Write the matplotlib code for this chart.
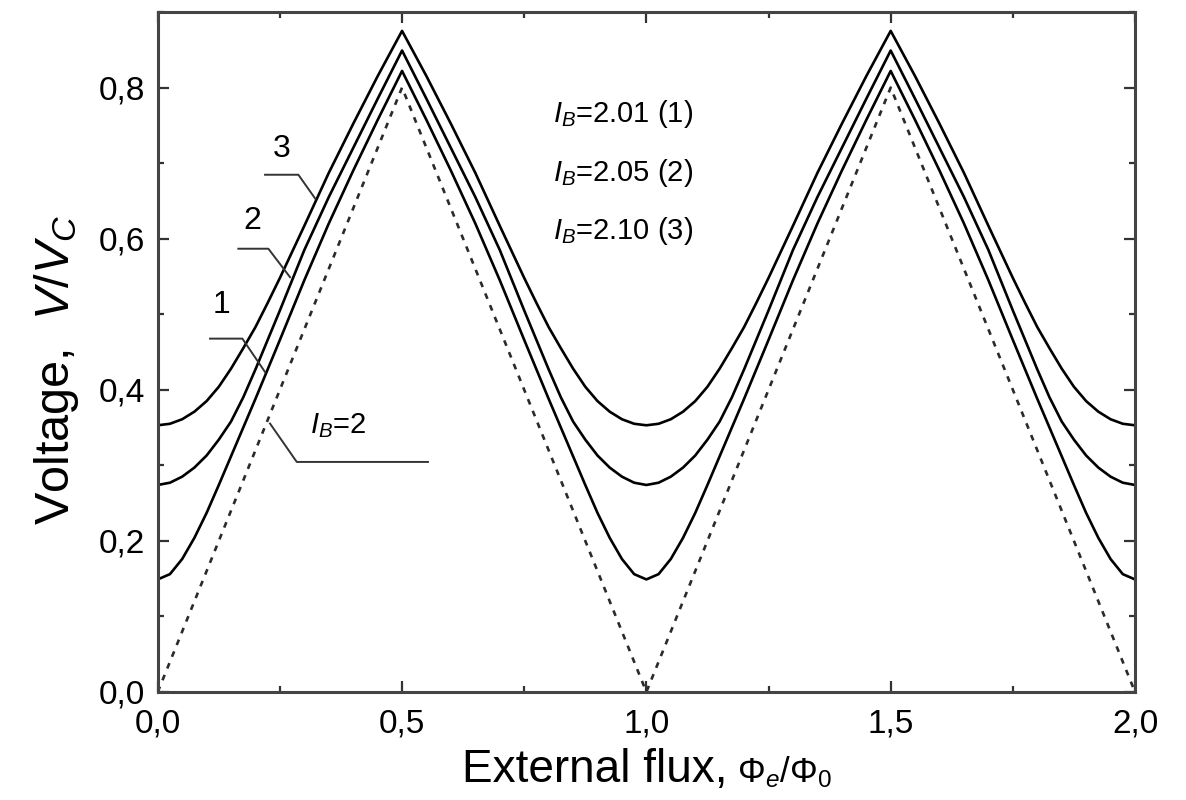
import numpy as np
import matplotlib
matplotlib.use("Agg")
import matplotlib.pyplot as plt
from matplotlib.ticker import MultipleLocator, FuncFormatter

plt.rcParams['font.family'] = ['Liberation Sans', 'DejaVu Sans']
plt.rcParams['mathtext.fontset'] = 'custom'
plt.rcParams['mathtext.rm'] = 'Liberation Sans'
plt.rcParams['mathtext.it'] = 'Liberation Sans:italic'

# external flux grid, Phi_e/Phi_0 (denser near the minima)
flux = [0.0, 0.025, 0.05, 0.075, 0.1, 0.125, 0.15, 0.175, 0.2, 0.225, 0.25, 0.3, 0.35, 0.4, 0.45, 0.5,
        0.55, 0.6, 0.65, 0.7, 0.75, 0.775, 0.8, 0.825, 0.85, 0.875, 0.9, 0.925, 0.95, 0.975, 1.0,
        1.025, 1.05, 1.075, 1.1, 1.125, 1.15, 1.175, 1.2, 1.225, 1.25, 1.3, 1.35, 1.4, 1.45, 1.5,
        1.55, 1.6, 1.65, 1.7, 1.75, 1.775, 1.8, 1.825, 1.85, 1.875, 1.9, 1.925, 1.95, 1.975, 2.0]

# V/Vc for I_B = 2.01 (1)
v_201 = [0.149, 0.156, 0.176, 0.204, 0.237, 0.274, 0.312, 0.350, 0.388, 0.427, 0.466, 0.545, 0.620, 0.690, 0.757, 0.822,
         0.757, 0.690, 0.620, 0.545, 0.466, 0.427, 0.388, 0.350, 0.312, 0.274, 0.237, 0.204, 0.176, 0.156, 0.149,
         0.156, 0.176, 0.204, 0.237, 0.274, 0.312, 0.350, 0.388, 0.427, 0.466, 0.545, 0.620, 0.690, 0.757, 0.822,
         0.757, 0.690, 0.620, 0.545, 0.466, 0.427, 0.388, 0.350, 0.312, 0.274, 0.237, 0.204, 0.176, 0.156, 0.149]

# V/Vc for I_B = 2.05 (2)
v_205 = [0.274, 0.277, 0.285, 0.297, 0.313, 0.334, 0.358, 0.390, 0.427, 0.466, 0.505, 0.585, 0.655, 0.720, 0.785, 0.849,
         0.785, 0.720, 0.655, 0.585, 0.505, 0.466, 0.427, 0.390, 0.358, 0.334, 0.313, 0.297, 0.285, 0.277, 0.274,
         0.277, 0.285, 0.297, 0.313, 0.334, 0.358, 0.390, 0.427, 0.466, 0.505, 0.585, 0.655, 0.720, 0.785, 0.849,
         0.785, 0.720, 0.655, 0.585, 0.505, 0.466, 0.427, 0.390, 0.358, 0.334, 0.313, 0.297, 0.285, 0.277, 0.274]

# V/Vc for I_B = 2.10 (3)
v_210 = [0.353, 0.355, 0.361, 0.371, 0.385, 0.404, 0.428, 0.455, 0.483, 0.515, 0.548, 0.617, 0.687, 0.752, 0.815, 0.875,
         0.815, 0.752, 0.687, 0.617, 0.548, 0.515, 0.483, 0.455, 0.428, 0.404, 0.385, 0.371, 0.361, 0.355, 0.353,
         0.355, 0.361, 0.371, 0.385, 0.404, 0.428, 0.455, 0.483, 0.515, 0.548, 0.617, 0.687, 0.752, 0.815, 0.875,
         0.815, 0.752, 0.687, 0.617, 0.548, 0.515, 0.483, 0.455, 0.428, 0.404, 0.385, 0.371, 0.361, 0.355, 0.353]

# I_B = 2, triangular
flux_b2 = [0.0, 0.5, 1.0, 1.5, 2.0]
v_200 = [0.0, 0.80, 0.0, 0.80, 0.0]

fig = plt.figure(figsize=(11.86, 8.0), dpi=100)
ax = fig.add_axes([0.133, 0.135, 0.824, 0.85])

for v in (v_201, v_205, v_210):
    ax.plot(flux, v, color='black', lw=1.9, solid_joinstyle='round')
ax.plot(flux_b2, v_200, color='#2a2a2a', lw=1.9, dashes=(2.2, 2.6))

ax.set_xlim(0, 2.0)
ax.set_ylim(0, 0.9)

ax.xaxis.set_major_locator(MultipleLocator(0.5))
ax.xaxis.set_minor_locator(MultipleLocator(0.25))
ax.yaxis.set_major_locator(MultipleLocator(0.2))
ax.yaxis.set_minor_locator(MultipleLocator(0.1))
comma = FuncFormatter(lambda v, p: ('%.1f' % v).replace('.', ','))
ax.xaxis.set_major_formatter(comma)
ax.yaxis.set_major_formatter(comma)

ax.tick_params(which='both', direction='in', top=True, right=True,
               width=1.6, colors='#333333', labelcolor='black', labelsize=24)
ax.tick_params(which='major', length=8)
ax.tick_params(which='minor', length=4)
ax.tick_params(axis='x', pad=12)
ax.tick_params(axis='y', pad=9)
for s in ax.spines.values():
    s.set_linewidth(2.2)
    s.set_color('#444444')

# curve numbers with leader lines
lead_kw = dict(color='#333333', lw=1.4)
ax.text(0.254, 0.719, '3', fontsize=23, ha='center', va='center')
ax.plot([0.2196, 0.2878, 0.3224], [0.6846, 0.6846, 0.6529], **lead_kw)
ax.text(0.193, 0.624, '2', fontsize=23, ha='center', va='center')
ax.plot([0.165, 0.2264, 0.2708], [0.5867, 0.5867, 0.549], **lead_kw)
ax.text(0.130, 0.512, '1', fontsize=23, ha='center', va='center')
ax.plot([0.107, 0.1732, 0.2196], [0.4677, 0.4677, 0.4235], **lead_kw)

ax.text(0.312, 0.342, r'$I_B$=2', fontsize=21, ha='left', va='baseline')
ax.plot([0.2298, 0.2845, 0.553], [0.3553, 0.3045, 0.3045], **lead_kw)

ax.text(0.809, 0.754, r'$I_B$=2.01 (1)', fontsize=21, ha='left', va='baseline')
ax.text(0.809, 0.676, r'$I_B$=2.05 (2)', fontsize=21, ha='left', va='baseline')
ax.text(0.809, 0.600, r'$I_B$=2.10 (3)', fontsize=21, ha='left', va='baseline')

# axis titles
fig.text(0.048, 0.5375, r'Voltage,  $V/V_C$', fontsize=35, rotation=90,
         ha='center', va='center')
fig.text(0.613, 0.022, 'External flux,', fontsize=33, ha='right', va='baseline')
fig.text(0.621, 0.022, r'$\Phi_e/\Phi_0$', fontsize=25, ha='left', va='baseline')

fig.savefig('out.png', dpi=100)
